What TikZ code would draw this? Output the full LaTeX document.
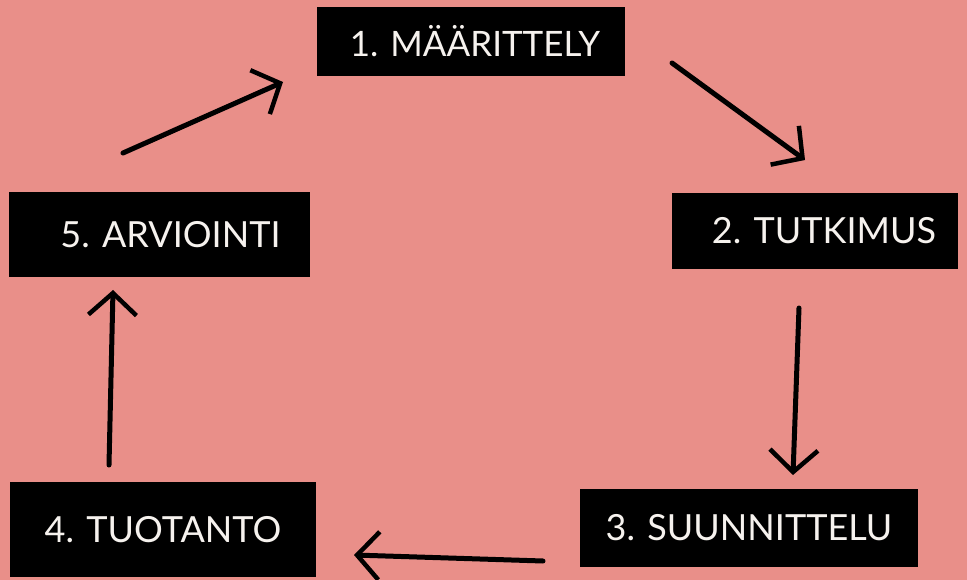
\documentclass[tikz,border=0pt]{standalone}
\usepackage{fontspec}
\setmainfont{Lato}
\usetikzlibrary{arrows.meta}
\definecolor{bgpink}{RGB}{233,143,137}
\definecolor{txtwhite}{RGB}{246,242,238}
\tikzset{
  stagebox/.style={fill=black, text=txtwhite, inner sep=0pt,
    font=\fontsize{36}{40}\selectfont},
  sketcharrow/.style={line width=5pt, line cap=round, black,
    -{Straight Barb[length=22pt,width=48pt,line width=4.5pt]}}
}
\begin{document}
\begin{tikzpicture}[x=1pt,y=-1pt]
\fill[bgpink] (0,0) rectangle (967,580);
\useasboundingbox (0,0) rectangle (967,580);

\node[stagebox, minimum width=308pt, minimum height=69pt, font=\fontsize{35}{40}\selectfont] (b1) at (471,41.5) {\hspace*{8pt}1. MÄÄRITTELY};
\node[stagebox, minimum width=286pt, minimum height=76pt] (b2) at (815,231) {\hspace*{18pt}2. TUTKIMUS};
\node[stagebox, minimum width=338pt, minimum height=78pt] (b3) at (749,528) {3. SUUNNITTELU};
\node[stagebox, minimum width=306pt, minimum height=95pt] (b4) at (163,529.5) {4. TUOTANTO};
\node[stagebox, minimum width=301pt, minimum height=85pt] (b5) at (159.5,234.5) {\hspace*{22pt}5. ARVIOINTI};

\coordinate (a1s) at (123,153); \coordinate (a1e) at (283,82);
\coordinate (a2s) at (672,63);  \coordinate (a2e) at (805,160);
\coordinate (a3s) at (799,308); \coordinate (a3e) at (793,475);
\coordinate (a4s) at (543,561); \coordinate (a4e) at (354,555);
\coordinate (a5s) at (109,465); \coordinate (a5e) at (113,290);

\draw[sketcharrow] (a1s) -- (a1e);
\draw[sketcharrow] (a2s) -- (a2e);
\draw[sketcharrow] (a3s) -- (a3e);
\draw[sketcharrow] (a4s) -- (a4e);
\draw[sketcharrow] (a5s) -- (a5e);
\end{tikzpicture}
\end{document}
